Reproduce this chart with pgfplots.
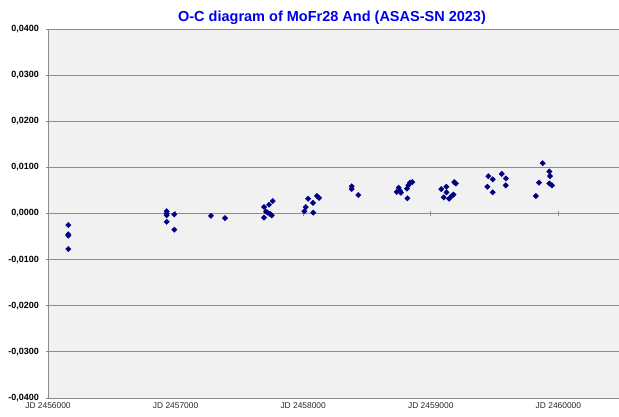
\documentclass[border=0pt]{standalone}
\usepackage{pgfplots}
\pgfplotsset{compat=1.18}
\usepackage{fontspec}
\setmainfont{Liberation Sans}
\definecolor{bgc}{RGB}{241,241,241}
\definecolor{gridc}{RGB}{140,140,140}
\definecolor{navy}{RGB}{0,0,128}
\definecolor{titleblue}{RGB}{0,0,235}
\begin{document}
\begin{tikzpicture}
\path[use as bounding box] (0,0) rectangle (619pt,416pt);
\begin{axis}[
  at={(48pt,18pt)}, anchor=south west,
  scale only axis, width=571pt, height=369pt,
  xmin=2456000, xmax=2460475,
  ymin=-0.04, ymax=0.04,
  scaled ticks=false,
  axis background/.style={fill=bgc},
  axis x line*=middle, axis y line*=left,
  axis line style={gridc, line width=0.9pt},
  xtick={2456000,2457000,2458000,2459000,2460000},
  xticklabels={},
  ytick={-0.04,-0.03,-0.02,-0.01,0,0.01,0.02,0.03,0.04},
  yticklabels={{-0,0400},{-0,0300},{-0,0200},{-0,0100},{0,0000},{0,0100},{0,0200},{0,0300},{0,0400}},
  yticklabel style={font=\bfseries\fontsize{9}{10}\selectfont, xshift=-3pt},
  ymajorgrids,
  grid style={gridc, line width=0.8pt},
  tick style={gridc, line width=0.8pt},
  tick align=center,
  major tick length=5pt,
  clip=false,
]
\addplot[only marks, mark=square*, mark size=1.9pt, navy, mark options={fill=navy, draw=navy, rotate=45}] table {
x y
2456159 -0.0025
2456159 -0.0045
2456159 -0.0048
2456159 -0.0077
2456930 0.0005
2456930 0.0000
2456930 -0.0004
2456930 -0.0018
2456990 -0.0002
2456990 -0.0035
2457277 -0.0005
2457387 -0.0010
2457693 0.0014
2457693 -0.0009
2457732 0.0019
2457708 0.0004
2457721 0.0002
2457740 -0.0001
2457753 -0.0004
2457761 0.0027
2458009 0.0005
2458020 0.0014
2458038 0.0032
2458077 0.0023
2458079 0.0002
2458108 0.0038
2458124 0.0034
2458380 0.0059
2458380 0.0053
2458432 0.0040
2458733 0.0047
2458748 0.0056
2458759 0.0049
2458766 0.0045
2458813 0.0054
2458824 0.0061
2458837 0.0067
2458855 0.0068
2458817 0.0033
2459082 0.0053
2459122 0.0058
2459123 0.0046
2459101 0.0035
2459143 0.0032
2459164 0.0038
2459178 0.0041
2459184 0.0068
2459197 0.0065
2459451 0.0081
2459485 0.0074
2459443 0.0058
2459485 0.0046
2459556 0.0086
2459589 0.0076
2459587 0.0061
2459877 0.0109
2459929 0.0091
2459934 0.0081
2459848 0.0067
2459929 0.0065
2459950 0.0061
2459824 0.0038
};
\node[anchor=north, font=\fontsize{8.4}{9}\selectfont, text=black!85, inner sep=0pt] at (axis cs:2456000,-0.04) [yshift=-4pt] {JD 2456000};
\node[anchor=north, font=\fontsize{8.4}{9}\selectfont, text=black!85, inner sep=0pt] at (axis cs:2457000,-0.04) [yshift=-4pt] {JD 2457000};
\node[anchor=north, font=\fontsize{8.4}{9}\selectfont, text=black!85, inner sep=0pt] at (axis cs:2458000,-0.04) [yshift=-4pt] {JD 2458000};
\node[anchor=north, font=\fontsize{8.4}{9}\selectfont, text=black!85, inner sep=0pt] at (axis cs:2459000,-0.04) [yshift=-4pt] {JD 2459000};
\node[anchor=north, font=\fontsize{8.4}{9}\selectfont, text=black!85, inner sep=0pt] at (axis cs:2460000,-0.04) [yshift=-4pt] {JD 2460000};
\end{axis}
\node[font=\bfseries\fontsize{14.5}{16}\selectfont, text=titleblue] at (332pt,398pt) {O-C diagram of MoFr28 And (ASAS-SN 2023)};
\end{tikzpicture}
\end{document}
